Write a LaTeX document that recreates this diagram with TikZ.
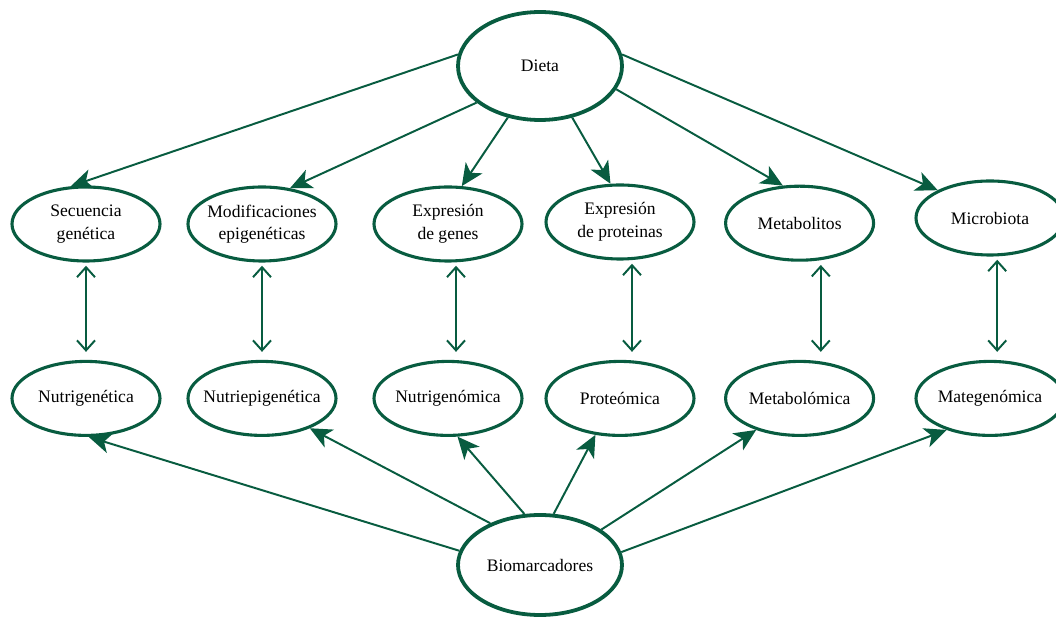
\documentclass[tikz,border=0pt]{standalone}
\usepackage{fontspec}
\setmainfont{Liberation Serif}
\usetikzlibrary{shapes.geometric,arrows.meta}
\definecolor{verde}{RGB}{8,92,64}
\begin{document}
\begin{tikzpicture}[elipse/.style={ellipse, draw=verde, line width=2.2pt, inner sep=0pt, inner xsep=-0.5cm, minimum width=3.7cm, minimum height=1.85cm, align=center, font=\fontsize{12.5}{16}\selectfont},
  central/.style={elipse, line width=2.7pt, minimum width=4.1cm},
  flecha/.style={draw=verde, line width=1.4pt, -{Stealth[length=0.55cm, width=0.5cm, inset=0.15cm]}},
  doble/.style={draw=verde, line width=1.4pt, {Straight Barb[length=0.25cm, width=0.45cm]}-{Straight Barb[length=0.25cm, width=0.45cm]}, shorten <=0.08cm, shorten >=0.2cm}]
  \useasboundingbox (0,0) rectangle (26.4,-15.425);
  \node[central, minimum height=2.7cm] (dieta) at (13.5,-1.65) {Dieta};
  \node[central, minimum height=2.5cm] (bio) at (13.5,-14.125) {Biomarcadores};
  \node[elipse] (sec) at (2.15,-5.6) {Secuencia\\genética};
  \node[elipse] (mod) at (6.55,-5.6) {Modificaciones\\epigenéticas};
  \node[elipse] (exg) at (11.2,-5.6) {Expresión\\de genes};
  \node[elipse] (exp) at (15.5,-5.55) {Expresión\\de proteinas};
  \node[elipse] (met) at (19.99,-5.58) {Metabolitos};
  \node[elipse] (mic) at (24.75,-5.45) {Microbiota};
  \node[elipse] (nutg) at (2.15,-9.96) {Nutrigenética};
  \node[elipse] (nute) at (6.55,-9.96) {Nutriepigenética};
  \node[elipse] (nutgo) at (11.2,-9.96) {Nutrigenómica};
  \node[elipse] (prot) at (15.5,-9.96) {Proteómica};
  \node[elipse] (metb) at (19.99,-9.96) {Metabolómica};
  \node[elipse] (mate) at (24.75,-9.96) {Mategenómica};
  \draw[flecha] (dieta.172) -- (sec.112);
  \draw[flecha] (dieta.210) -- (mod.52);
  \draw[flecha] (dieta.238) -- (exg.70);
  \draw[flecha] (dieta.302) -- (exp.104);
  \draw[flecha] (dieta.343) -- (met.114);
  \draw[flecha] (dieta.8) -- (mic.152);
  \draw[doble] (sec) -- (nutg);
  \draw[doble] (mod) -- (nute);
  \draw[doble] ([xshift=0.2cm]exg.south) -- ([xshift=0.2cm]nutgo.north);
  \draw[doble] ([xshift=0.3cm]exp.south) -- ([xshift=0.3cm]prot.north);
  \draw[doble] ([xshift=0.53cm]met.south) -- ([xshift=0.53cm]metb.north);
  \draw[doble] ([xshift=0.18cm]mic.south) -- ([xshift=0.18cm]mate.north);
  \draw[flecha] (bio.170) -- (nutg.274);
  \draw[flecha] (bio.140) -- (nute.328);
  \draw[flecha] (bio.107) -- (nutgo.284);
  \draw[flecha] (bio.75) -- (prot.236);
  \draw[flecha] (bio.30) -- (metb.216);
  \draw[flecha] (bio.9) -- (mate.216);
\end{tikzpicture}
\end{document}
